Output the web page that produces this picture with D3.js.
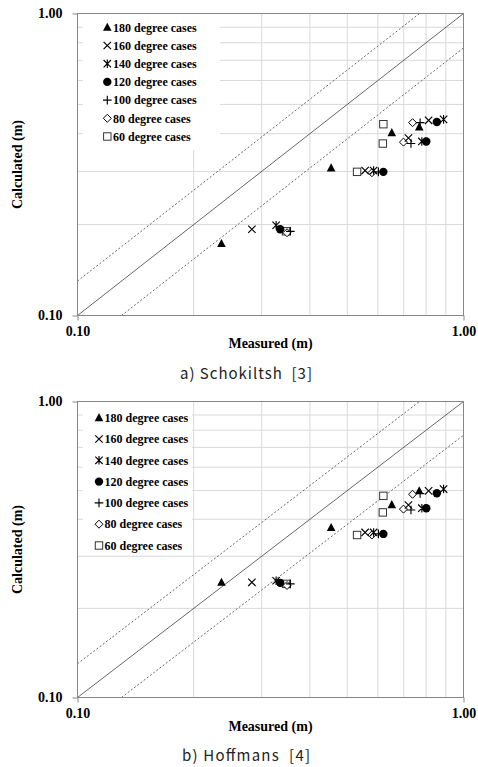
<!DOCTYPE html>
<html>
<head>
<meta charset="utf-8">
<script src="https://cdn.jsdelivr.net/npm/d3@7"></script>
<style>
  html, body { margin: 0; padding: 0; background: #fff; }
  svg { display: block; }
</style>
</head>
<body>
<svg id="chart" width="478" height="767"></svg>
<script>
// ---------------- DATA ----------------
const categories = ["180 degree cases", "160 degree cases", "140 degree cases",
                    "120 degree cases", "100 degree cases", "80 degree cases", "60 degree cases"];
const markerTypes = ["triangle", "cross", "star", "circle", "plus", "diamond", "square"];

// Measured (m) — same for both panels
const measured180 = [0.236, 0.454, 0.652, 0.768];
const measured160 = [0.283, 0.556, 0.720, 0.812];
const measured140 = [0.327, 0.585, 0.780, 0.888];
const measured120 = [0.335, 0.620, 0.801, 0.853];
const measured100 = [0.356, 0.602, 0.731, 0.772];
const measured80  = [0.349, 0.579, 0.699, 0.738];
const measured60  = [0.347, 0.530, 0.618, 0.620];

// Calculated (m) — a) Schokiltsh
const schokiltsh180 = [0.173, 0.308, 0.403, 0.421];
const schokiltsh160 = [0.193, 0.302, 0.387, 0.443];
const schokiltsh140 = [0.199, 0.302, 0.377, 0.446];
const schokiltsh120 = [0.193, 0.299, 0.377, 0.437];
const schokiltsh100 = [0.190, 0.299, 0.371, 0.435];
const schokiltsh80  = [0.188, 0.297, 0.375, 0.435];
const schokiltsh60  = [0.190, 0.299, 0.371, 0.430];

// Calculated (m) — b) Hoffmans
const hoffmans180 = [0.245, 0.375, 0.448, 0.499];
const hoffmans160 = [0.245, 0.361, 0.447, 0.499];
const hoffmans140 = [0.248, 0.361, 0.436, 0.506];
const hoffmans120 = [0.244, 0.357, 0.436, 0.490];
const hoffmans100 = [0.242, 0.357, 0.430, 0.489];
const hoffmans80  = [0.239, 0.354, 0.433, 0.486];
const hoffmans60  = [0.242, 0.354, 0.422, 0.480];

const tickValues = [0.1, 1.0];
const tickLabels = ["0.10", "1.00"];
const bandFactor = 1.3;   // dashed lines: y = 1.3x and y = x/1.3
const xTitle = "Measured (m)";
const yTitle = "Calculated (m)";
const captions = ["a) Schokiltsh  [3]", "b) Hoffmans  [4]"];

const measuredAll = [measured180, measured160, measured140, measured120, measured100, measured80, measured60];
const schokiltshAll = [schokiltsh180, schokiltsh160, schokiltsh140, schokiltsh120, schokiltsh100, schokiltsh80, schokiltsh60];
const hoffmansAll = [hoffmans180, hoffmans160, hoffmans140, hoffmans120, hoffmans100, hoffmans80, hoffmans60];

// ---------------- LAYOUT ----------------
const panels = [
  { calc: schokiltshAll, caption: captions[0], capW: 132, top: 13.5, bottom: 315.5,
    legend: { mx: 107.3, tx: 113, y0: 27.3, dy: 18.2, box: [83, 14, 220, 150] },
    xTitleY: 348, captionY: 378.5 },
  { calc: hoffmansAll, caption: captions[1], capW: 128, top: 401.5, bottom: 697.5,
    legend: { mx: 99, tx: 104.5, y0: 417.7, dy: 21.3, box: [83, 402, 192, 553] },
    xTitleY: 731, captionY: 760.5 }
];
const left = 77.5, right = 463.5;
const serif = "'Liberation Serif', 'Times New Roman', serif";

const svg = d3.select("#chart");
svg.append("rect").attr("width", 478).attr("height", 767).attr("fill", "#fff");

function drawMarker(g, type, cx, cy) {
  const k = g.append("g").attr("transform", `translate(${cx},${cy})`);
  switch (type) {
    case "triangle":
      k.append("path").attr("d", "M0,-4.6 L4.3,3.5 L-4.3,3.5 Z").attr("fill", "#000");
      break;
    case "cross":
      k.append("path").attr("d", "M-3.7,-3.7 L3.7,3.7 M-3.7,3.7 L3.7,-3.7")
        .attr("stroke", "#000").attr("stroke-width", 1.15).attr("fill", "none");
      break;
    case "star":
      k.append("path").attr("d", "M-3.7,-3.7 L3.7,3.7 M-3.7,3.7 L3.7,-3.7 M0,-4.3 L0,4.3")
        .attr("stroke", "#000").attr("stroke-width", 1.15).attr("fill", "none");
      break;
    case "circle":
      k.append("circle").attr("r", 4.2).attr("fill", "#000");
      break;
    case "plus":
      k.append("path").attr("d", "M-4.3,0 L4.3,0 M0,-4.3 L0,4.3")
        .attr("stroke", "#000").attr("stroke-width", 1.15).attr("fill", "none");
      break;
    case "diamond":
      k.append("path").attr("d", "M0,-4 L4,0 L0,4 L-4,0 Z")
        .attr("stroke", "#000").attr("stroke-width", 1).attr("fill", "#fff");
      break;
    case "square":
      k.append("rect").attr("x", -3.7).attr("y", -3.7).attr("width", 7.4).attr("height", 7.4)
        .attr("stroke", "#333").attr("stroke-width", 1).attr("fill", "#fff");
      break;
  }
}

panels.forEach(p => {
  const x = d3.scaleLog().domain([0.1, 1]).range([left, right]);
  const y = d3.scaleLog().domain([0.1, 1]).range([p.bottom, p.top]);
  const g = svg.append("g");

  // gridlines
  const minor = x.ticks().filter(v => v > 0.1 + 1e-9 && v < 1 - 1e-9);
  g.append("g").selectAll("line.v").data(minor).join("line")
    .attr("x1", d => x(d)).attr("x2", d => x(d)).attr("y1", p.top).attr("y2", p.bottom)
    .attr("stroke", "#d9d9d9").attr("stroke-width", 1);
  g.append("g").selectAll("line.h").data(minor).join("line")
    .attr("y1", d => y(d)).attr("y2", d => y(d)).attr("x1", left).attr("x2", right)
    .attr("stroke", "#d9d9d9").attr("stroke-width", 1);

  // legend box (white, hides gridlines)
  const b = p.legend.box;
  g.append("rect").attr("x", b[0]).attr("y", b[1]).attr("width", b[2] - b[0]).attr("height", b[3] - b[1])
    .attr("fill", "#fff");

  // reference lines
  const lineGen = d3.line().x(d => x(d[0])).y(d => y(d[1]));
  g.append("path").datum([[0.1, 0.1], [1, 1]]).attr("d", lineGen)
    .attr("stroke", "#404040").attr("stroke-width", 0.8).attr("fill", "none");
  g.append("path").datum([[0.1, 0.1 * bandFactor], [1 / bandFactor, 1]]).attr("d", lineGen)
    .attr("stroke", "#404040").attr("stroke-width", 0.8).attr("stroke-dasharray", "2,2").attr("fill", "none");
  g.append("path").datum([[0.1 * bandFactor, 0.1], [1, 1 / bandFactor]]).attr("d", lineGen)
    .attr("stroke", "#404040").attr("stroke-width", 0.8).attr("stroke-dasharray", "2,2").attr("fill", "none");

  // plot border
  g.append("rect").attr("x", left).attr("y", p.top).attr("width", right - left).attr("height", p.bottom - p.top)
    .attr("fill", "none").attr("stroke", "#868686").attr("stroke-width", 1);

  // axes
  const fmt = (d) => tickLabels[tickValues.indexOf(d)];
  const xAxis = g.append("g").attr("transform", `translate(0,${p.bottom})`)
    .call(d3.axisBottom(x).tickValues(tickValues).tickFormat(fmt).tickSize(5).tickPadding(6));
  const yAxis = g.append("g").attr("transform", `translate(${left},0)`)
    .call(d3.axisLeft(y).tickValues(tickValues).tickFormat(fmt).tickSize(5).tickPadding(10));
  [xAxis, yAxis].forEach(a => {
    a.select(".domain").remove();
    a.selectAll(".tick line").attr("stroke", "#868686");
    a.selectAll("text").attr("font-family", serif).attr("font-weight", "bold")
      .attr("font-size", 14).attr("fill", "#000");
  });

  // axis titles
  g.append("text").attr("x", (left + right) / 2).attr("y", p.xTitleY).attr("text-anchor", "middle")
    .attr("font-family", serif).attr("font-weight", "bold").attr("font-size", 14).text(xTitle);
  g.append("text").attr("transform", `translate(21.5,${(p.top + p.bottom) / 2}) rotate(-90)`)
    .attr("text-anchor", "middle")
    .attr("font-family", serif).attr("font-weight", "bold").attr("font-size", 14).text(yTitle);

  // data points (draw in reverse legend order so 180 on top)
  for (let s = categories.length - 1; s >= 0; s--) {
    const xs = measuredAll[s], ys = p.calc[s];
    xs.forEach((mv, i) => drawMarker(g, markerTypes[s], x(mv), y(ys[i])));
  }

  // legend
  categories.forEach((c, i) => {
    const cy = p.legend.y0 + i * p.legend.dy;
    drawMarker(g, markerTypes[i], p.legend.mx, cy);
    g.append("text").attr("x", p.legend.tx).attr("y", cy).attr("dy", "0.35em")
      .attr("font-family", serif).attr("font-weight", "bold").attr("font-size", 12).text(c);
  });

  // caption
  g.append("text").attr("x", 246).attr("y", p.captionY).attr("text-anchor", "middle")
    .attr("font-family", "'Noto Sans CJK KR', 'Noto Sans', sans-serif").attr("font-size", 15)
    .attr("textLength", p.capW).attr("lengthAdjust", "spacing")
    .attr("fill", "#222").style("white-space", "pre").text(p.caption);
});
</script>
</body>
</html>
